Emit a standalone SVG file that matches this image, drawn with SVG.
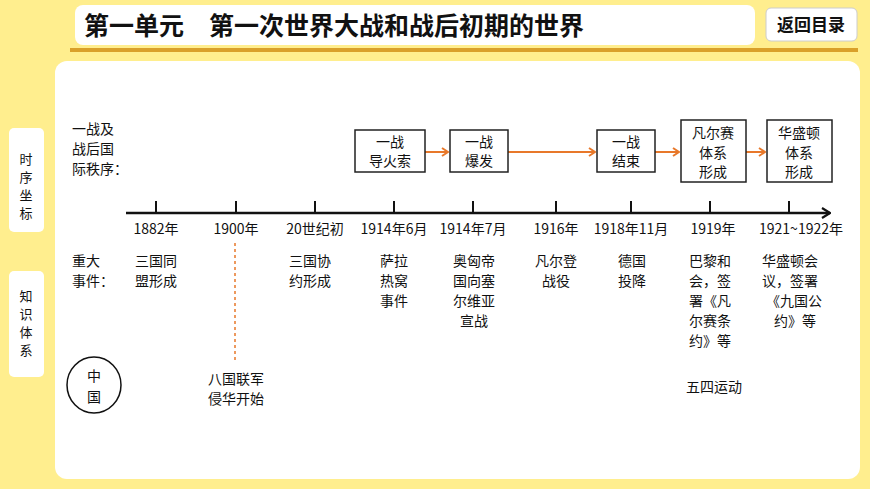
<svg xmlns="http://www.w3.org/2000/svg" width="870" height="489" viewBox="0 0 870 489">
<defs>
<style>
text{font-family:"Noto Sans CJK SC","Liberation Sans",sans-serif;font-size:14px;fill:#111}
.m{text-anchor:middle}
.s{font-size:13px}
.box{fill:#fff;stroke:#222;stroke-width:1.5}
.tk{stroke:#111;stroke-width:2}
.oa{stroke:#E8782A;stroke-width:2;fill:none;marker-end:url(#oh)}
</style>
<marker id="oh" markerWidth="8" markerHeight="10" refX="7" refY="5" orient="auto" markerUnits="userSpaceOnUse"><path d="M1,1 L7,5 L1,9" fill="none" stroke="#E8782A" stroke-width="2"/></marker>
<marker id="bh" markerWidth="10" markerHeight="12" refX="9" refY="6" orient="auto" markerUnits="userSpaceOnUse"><path d="M1,1 L9,6 L1,11" fill="none" stroke="#111" stroke-width="2.2"/></marker>
</defs>
<rect width="870" height="489" fill="#FFEE8E"/>
<g id="header">
<rect x="75" y="5" width="680" height="40" rx="8" fill="#fff"/>
<line x1="70" y1="50" x2="858" y2="50" stroke="#D9A02A" stroke-width="4"/>
<text x="84" y="35" style="font-size:25px;font-weight:bold">第一单元　第一次世界大战和战后初期的世界</text>
<rect x="766" y="8" width="91" height="33" rx="5" fill="#fff" stroke="#ccc"/>
<text x="811" y="31" class="m" style="font-size:17px;font-weight:bold">返回目录</text>
</g>
<rect x="55" y="61" width="805" height="418" rx="12" fill="#fff"/>
<g id="tabs">
<rect x="9" y="128" width="35" height="104" rx="5" fill="#fff"/>
<text x="26" y="164" class="m s">时</text><text x="26" y="182" class="m s">序</text><text x="26" y="200" class="m s">坐</text><text x="26" y="218" class="m s">标</text>
<rect x="9" y="271" width="35" height="106" rx="5" fill="#fff"/>
<text x="26" y="301" class="m s">知</text><text x="26" y="319" class="m s">识</text><text x="26" y="337" class="m s">体</text><text x="26" y="355" class="m s">系</text>
</g>
<g id="labels">
<text x="72" y="134">一战及</text><text x="72" y="154">战后国</text><text x="72" y="174">际秩序：</text>
<text x="72" y="266">重大</text><text x="72" y="286">事件：</text>
</g>
<g id="china"><ellipse cx="94" cy="385" rx="27" ry="28" fill="none" stroke="#111" stroke-width="1.5"/><text x="94" y="381" class="m">中</text><text x="94" y="402" class="m">国</text></g>
<g id="timeline">
<line x1="126" y1="213" x2="830" y2="213" stroke="#111" stroke-width="2.5" marker-end="url(#bh)"/>
<g class="tk"><line x1="156" y1="201" x2="156" y2="213"/><line x1="236" y1="201" x2="236" y2="213"/><line x1="315" y1="201" x2="315" y2="213"/><line x1="394" y1="201" x2="394" y2="213"/><line x1="473" y1="201" x2="473" y2="213"/><line x1="556" y1="201" x2="556" y2="213"/><line x1="631" y1="201" x2="631" y2="213"/><line x1="710" y1="201" x2="710" y2="213"/><line x1="789" y1="201" x2="789" y2="213"/></g>
<text x="156" y="234" class="m">1882年</text><text x="236" y="234" class="m">1900年</text><text x="315" y="234" class="m">20世纪初</text><text x="394" y="234" class="m">1914年6月</text><text x="473" y="234" class="m">1914年7月</text><text x="556" y="234" class="m">1916年</text><text x="631" y="234" class="m">1918年11月</text><text x="713" y="234" class="m">1919年</text><text x="801" y="234" class="m">1921~1922年</text>
</g>
<g id="connectors">
<line x1="425" y1="152" x2="448" y2="152" class="oa"/>
<line x1="508" y1="152" x2="595" y2="152" class="oa"/>
<line x1="655" y1="152" x2="679" y2="152" class="oa"/>
<line x1="746" y1="152" x2="765" y2="152" class="oa"/>
<line x1="235" y1="243" x2="235" y2="362" stroke="#E8782A" stroke-width="1.5" stroke-dasharray="3,3"/>
</g>
<g id="n1"><rect x="355" y="130" width="70" height="42" class="box"/><text x="390" y="147" class="m">一战</text><text x="390" y="166" class="m">导火索</text></g>
<g id="n2"><rect x="450" y="130" width="58" height="42" class="box"/><text x="479" y="147" class="m">一战</text><text x="479" y="166" class="m">爆发</text></g>
<g id="n3"><rect x="597" y="130" width="58" height="42" class="box"/><text x="626" y="147" class="m">一战</text><text x="626" y="166" class="m">结束</text></g>
<g id="n4"><rect x="681" y="120" width="65" height="62" class="box"/><text x="713" y="138" class="m">凡尔赛</text><text x="713" y="158" class="m">体系</text><text x="713" y="177" class="m">形成</text></g>
<g id="n5"><rect x="767" y="120" width="65" height="62" class="box"/><text x="799" y="138" class="m">华盛顿</text><text x="799" y="158" class="m">体系</text><text x="799" y="177" class="m">形成</text></g>
<g id="events">
<text x="135" y="266">三国同</text><text x="135" y="286">盟形成</text>
<text x="289" y="266">三国协</text><text x="289" y="286">约形成</text>
<text x="394" y="266" class="m">萨拉</text><text x="394" y="286" class="m">热窝</text><text x="394" y="306" class="m">事件</text>
<text x="474" y="266" class="m">奥匈帝</text><text x="474" y="286" class="m">国向塞</text><text x="474" y="306" class="m">尔维亚</text><text x="474" y="326" class="m">宣战</text>
<text x="556" y="266" class="m">凡尔登</text><text x="556" y="286" class="m">战役</text>
<text x="632" y="266" class="m">德国</text><text x="632" y="286" class="m">投降</text>
<text x="689" y="266">巴黎和</text><text x="689" y="286">会，签</text><text x="689" y="306">署《凡</text><text x="689" y="326">尔赛条</text><text x="689" y="346">约》等</text>
<text x="762" y="266">华盛顿会</text><text x="762" y="286">议，签署</text><text x="766" y="306">《九国公</text><text x="774" y="326">约》等</text>
<text x="236" y="384" class="m">八国联军</text><text x="236" y="404" class="m">侵华开始</text>
<text x="686" y="392">五四运动</text>
</g>
</svg>
